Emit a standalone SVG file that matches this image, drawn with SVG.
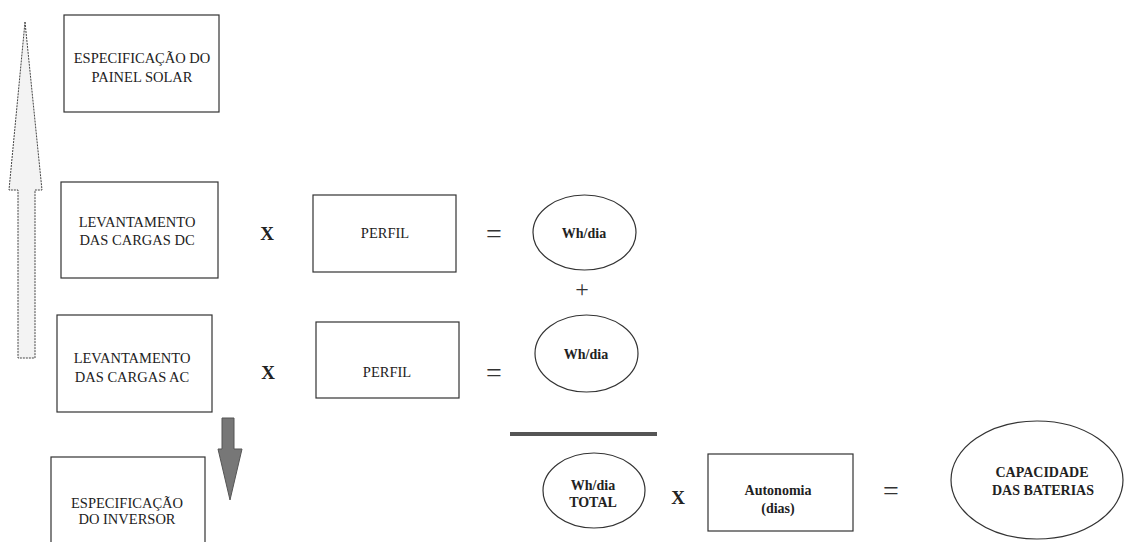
<svg xmlns="http://www.w3.org/2000/svg" width="1124" height="542" viewBox="0 0 1124 542">
<style>
.box{fill:#fff;stroke:#333;stroke-width:1.2}
.ell{fill:#fff;stroke:#333;stroke-width:1.2}
text{font-family:'Liberation Serif','Times New Roman','DejaVu Serif',serif;text-anchor:middle;fill:#222}
.t{font-size:14.5px}
.b{font-size:14px;font-weight:bold}
.op{font-size:19px;font-weight:bold}
.eq{font-size:28px;fill:#333}
</style>
<rect width="1124" height="542" fill="#fff"/>
<g id="connectors">
  <polygon id="arrow-up" points="25,22 42,190 35,190 35,358 18,358 18,190 9,190" fill="#f3f3f3" stroke="#444" stroke-width="1" stroke-dasharray="2,1"/>
  <polygon id="arrow-down" points="222,418 234,418 234,449 242,449 230,500 218,449 222,449" fill="#777" stroke="#555" stroke-width="1"/>
  <rect id="bar" x="510" y="432" width="147" height="4" fill="#555"/>
</g>
<g id="painel">
  <rect class="box" x="64" y="15" width="155" height="97"/>
  <text class="t" x="142" y="63" font-family="Liberation Serif, serif">ESPECIFICAÇÃO DO</text>
  <text class="t" x="142" y="82" font-family="Liberation Serif, serif">PAINEL SOLAR</text>
</g>
<g id="cargas-dc">
  <rect class="box" x="61" y="182" width="157" height="96"/>
  <text class="t" x="137" y="227" font-family="Liberation Serif, serif">LEVANTAMENTO</text>
  <text class="t" x="137" y="245" font-family="Liberation Serif, serif">DAS CARGAS DC</text>
</g>
<g id="cargas-ac">
  <rect class="box" x="57" y="315" width="155" height="97"/>
  <text class="t" x="132" y="363" font-family="Liberation Serif, serif">LEVANTAMENTO</text>
  <text class="t" x="132" y="382" font-family="Liberation Serif, serif">DAS CARGAS AC</text>
</g>
<g id="inversor">
  <rect class="box" x="51" y="457" width="154" height="100"/>
  <text class="t" x="127" y="508" font-family="Liberation Serif, serif">ESPECIFICAÇÃO</text>
  <text class="t" x="127" y="524" font-family="Liberation Serif, serif">DO INVERSOR</text>
</g>
<g id="ops1">
  <text class="op" x="267" y="240" font-family="Liberation Serif, serif">X</text>
  <text class="eq" x="494" y="243" font-family="Liberation Serif, serif">=</text>
</g>
<g id="perfil-dc">
  <rect class="box" x="313" y="195" width="143" height="77"/>
  <text class="t" x="385" y="238" font-family="Liberation Serif, serif">PERFIL</text>
</g>
<g id="whdia-dc">
  <ellipse class="ell" cx="584.5" cy="232.5" rx="51.5" ry="37.5"/>
  <text class="b" x="584" y="238" font-family="Liberation Serif, serif">Wh/dia</text>
</g>
<text class="eq" x="582" y="297" style="font-size:24px" font-family="Liberation Serif, serif">+</text>
<g id="ops2">
  <text class="op" x="268" y="379" font-family="Liberation Serif, serif">X</text>
  <text class="eq" x="494" y="382" font-family="Liberation Serif, serif">=</text>
</g>
<g id="perfil-ac">
  <rect class="box" x="316" y="322" width="143" height="76"/>
  <text class="t" x="387" y="377" font-family="Liberation Serif, serif">PERFIL</text>
</g>
<g id="whdia-ac">
  <ellipse class="ell" cx="586.5" cy="353.5" rx="51.5" ry="38.5"/>
  <text class="b" x="586" y="359" font-family="Liberation Serif, serif">Wh/dia</text>
</g>
<g id="whdia-total">
  <ellipse class="ell" cx="594" cy="490.5" rx="51" ry="37.5"/>
  <text class="b" x="593" y="490" font-family="Liberation Serif, serif">Wh/dia</text>
  <text class="b" x="593" y="507" font-family="Liberation Serif, serif">TOTAL</text>
</g>
<text class="op" x="678" y="504" font-family="Liberation Serif, serif">X</text>
<g id="autonomia">
  <rect class="box" x="708" y="454" width="145" height="77"/>
  <text class="b" x="778" y="495" font-family="Liberation Serif, serif">Autonomia</text>
  <text class="b" x="778" y="513" font-family="Liberation Serif, serif">(dias)</text>
</g>
<text class="eq" x="891" y="500" font-family="Liberation Serif, serif">=</text>
<g id="capacidade">
  <ellipse class="ell" cx="1037" cy="480" rx="86" ry="59"/>
  <text class="b" x="1042" y="477" font-family="Liberation Serif, serif">CAPACIDADE</text>
  <text class="b" x="1043" y="495" font-family="Liberation Serif, serif">DAS BATERIAS</text>
</g>
</svg>
